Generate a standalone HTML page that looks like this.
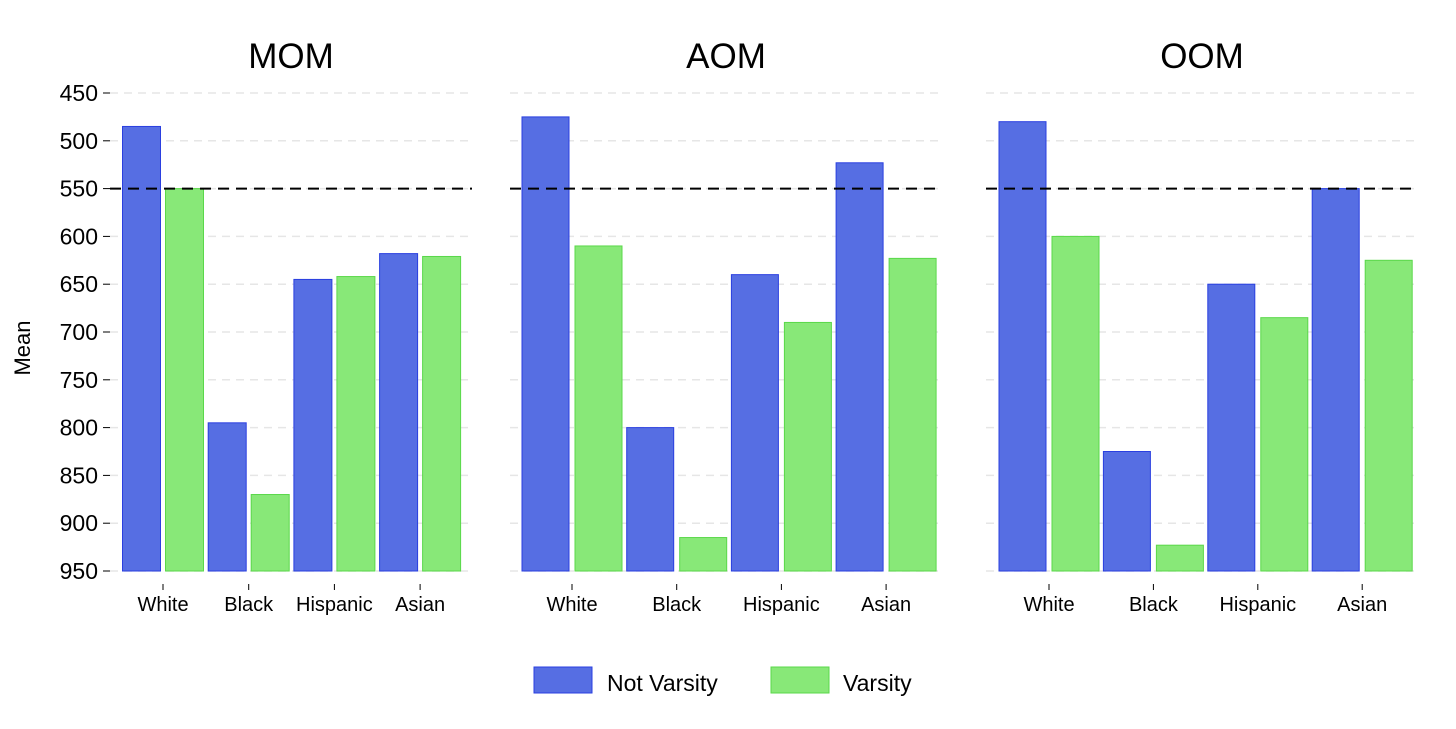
<!DOCTYPE html>
<html><head><meta charset="utf-8">
<style>
html,body{margin:0;padding:0;background:#fff;}
svg{display:block;font-family:"Liberation Sans",Arial,sans-serif;}
</style></head>
<body>
<svg id="chart" width="1456" height="729" viewBox="0 0 1456 729" xmlns="http://www.w3.org/2000/svg">
<text x="0" y="0" transform="translate(30,348) rotate(-90)" text-anchor="middle" font-size="22" fill="#000">Mean</text>
<g>
<rect x="534" y="667" width="58" height="26" fill="#566ee3" stroke="#2a3fe0" stroke-width="1"/>
<text x="607" y="691" font-size="23" fill="#000">Not Varsity</text>
<rect x="771" y="667" width="58" height="26" fill="#88e878" stroke="#5ad84a" stroke-width="1"/>
<text x="843" y="691" font-size="23" fill="#000">Varsity</text>
</g>
</svg>
<script>
const panels = ["MOM", "AOM", "OOM"];
const categories = ["White", "Black", "Hispanic", "Asian"];
const notVarsityMOM = [485, 795, 645, 618];
const varsityMOM = [550, 870, 642, 621];
const notVarsityAOM = [475, 800, 640, 523];
const varsityAOM = [610, 915, 690, 623];
const notVarsityOOM = [480, 825, 650, 550];
const varsityOOM = [600, 923, 685, 625];
const yTicks = [450, 500, 550, 600, 650, 700, 750, 800, 850, 900, 950];
const referenceLine = 550;

const NS = "http://www.w3.org/2000/svg";
const svg = document.getElementById("chart");
const yTop = 93, yBot = 571, vMin = 450, vMax = 950;
function yScale(v){ return yTop + (v - vMin) / (vMax - vMin) * (yBot - yTop); }
const layouts = [
  {x0:110, x1:472, c0:163, step:85.7, bw:38, gap:5},
  {x0:510, x1:942, c0:572, step:104.7, bw:47, gap:6},
  {x0:986, x1:1418, c0:1049, step:104.4, bw:47, gap:6}
];
const nvData = [notVarsityMOM, notVarsityAOM, notVarsityOOM];
const vData = [varsityMOM, varsityAOM, varsityOOM];
function mk(tag, attrs){ const e=document.createElementNS(NS,tag); for(const k in attrs) e.setAttribute(k,attrs[k]); return e; }

panels.forEach((p, pi) => {
  const L = layouts[pi];
  const g = mk("g", {});
  
  
  svg.appendChild(g);
  const title = mk("text", {x:(L.x0+L.x1)/2, y:68, "text-anchor":"middle", "font-size":"35", fill:"#000"});
  
  
  title.textContent = p;
  g.appendChild(title);
  yTicks.forEach(t => {
    const y = yScale(t);
    const gl = mk("line", {x1:L.x0, x2:L.x1, y1:y, y2:y, stroke:"#e6e6e6", "stroke-width":"1.5", "stroke-dasharray":"8,6"});
    
    
    g.appendChild(gl);
    if (pi === 0) {
      const tk = mk("line", {x1:103, x2:110, y1:y, y2:y, stroke:"#000", "stroke-width":"1"});
      
      
      svg.appendChild(tk);
      const tl = mk("text", {x:98, y:y+8, "text-anchor":"end", "font-size":"23", fill:"#000"});
      
      
      tl.textContent = t;
      svg.appendChild(tl);
    }
  });
  categories.forEach((c, ci) => {
    const cx = L.c0 + ci * L.step;
    const nv = nvData[pi][ci], v = vData[pi][ci];
    const yb = yScale(vMax);
    const r1 = mk("rect", {x:cx - L.gap/2 - L.bw, y:yScale(nv), width:L.bw, height:yb - yScale(nv), fill:"#566ee3", stroke:"#2a3fe0", "stroke-width":"1"});
    
    
    g.appendChild(r1);
    const r2 = mk("rect", {x:cx + L.gap/2, y:yScale(v), width:L.bw, height:yb - yScale(v), fill:"#88e878", stroke:"#5ad84a", "stroke-width":"1"});
    
    
    g.appendChild(r2);
    const tk = mk("line", {x1:cx, x2:cx, y1:584, y2:590, stroke:"#000", "stroke-width":"1"});
    
    
    g.appendChild(tk);
    const lb = mk("text", {x:cx, y:611, "text-anchor":"middle", "font-size":"20", fill:"#000"});
    
    
    lb.textContent = c;
    g.appendChild(lb);
  });
  const ry = yScale(referenceLine);
  const rl = mk("line", {x1:L.x0, x2:L.x1, y1:ry, y2:ry, stroke:"#000", "stroke-width":"2", "stroke-dasharray":"11,7"});
  
  
  g.appendChild(rl);
});
</script>
</body></html>
